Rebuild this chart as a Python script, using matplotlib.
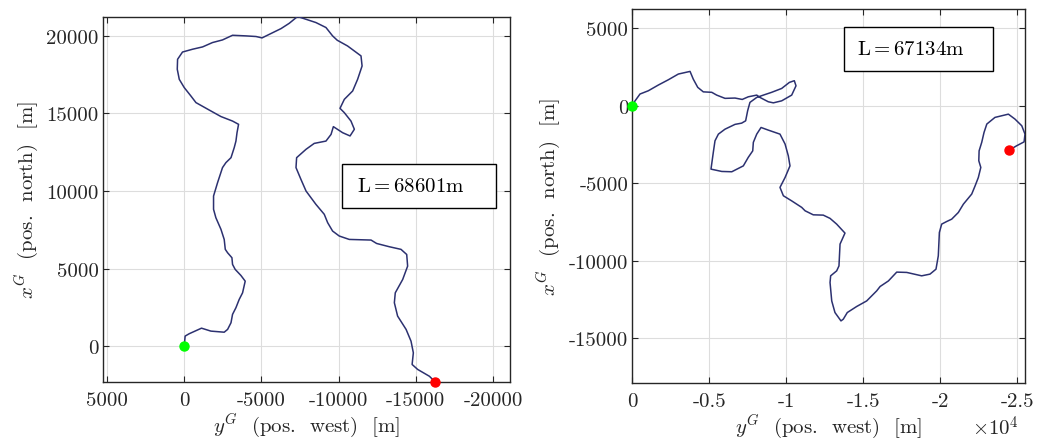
import matplotlib
matplotlib.use("Agg")
import matplotlib.pyplot as plt
from matplotlib.ticker import FuncFormatter, FixedLocator
from matplotlib.patches import Rectangle

plt.rcParams['font.family'] = ['cmr10', 'DejaVu Serif']
plt.rcParams['mathtext.fontset'] = 'cm'
plt.rcParams['axes.unicode_minus'] = False
plt.rcParams['axes.formatter.use_mathtext'] = True

# ---- data: left trajectory (y^G west, x^G north) ----
left_west = [0, -60, -320, -1120, -1730, -2590, -2810, -3030, -3130, -3350, -3560, -3780,
             -3950, -3670, -3300, -3130, -3090, -2810, -2660, -2590, -2380, -2050, -1900,
             -1900, -2160, -2480, -2700, -3030, -3240, -3350, -3420, -3520, -3130, -2380,
             -1620, -760, -430, 0, 320, 450, 430, 110, -540, -1190, -1830, -2480, -3130,
             -4000, -4650, -5040, -5510, -6270, -6800, -7340, -7890, -8530, -9180, -9610,
             -9910, -10580, -11450, -11520, -11230, -10910, -10370, -10090, -10370, -10800,
             -11020, -10740, -10260, -9660, -9510, -9180, -8420, -7890, -7280, -7240, -7560,
             -7890, -8210, -8530, -9070, -9290, -9610, -10040, -10690, -12100, -12460,
             -13280, -14040, -14410, -14470, -14150, -13670, -13610, -13820, -14370, -14690,
             -14840, -14760, -15120, -15880, -16260]
left_north = [0, 650, 800, 1160, 970, 900, 1080, 1510, 2050, 2480, 3010, 3440, 4190, 4560,
              4950, 5270, 5700, 6020, 6240, 6880, 7530, 8280, 8820, 9680, 10540, 11510,
              11830, 12150, 12800, 13220, 13760, 14300, 14510, 14800, 15220, 15700, 16130,
              16670, 17200, 17850, 18490, 18960, 19140, 19290, 19570, 19740, 20040, 20000,
              19960, 19870, 20100, 20470, 20810, 21250, 21070, 20860, 20540, 20000, 19720,
              19350, 18710, 18060, 17200, 16450, 15910, 15330, 15050, 14510, 13980, 13550,
              13760, 14150, 13650, 13220, 13070, 12690, 12150, 11510, 10750, 10000, 9570,
              9140, 8500, 7960, 7420, 7100, 6880, 6840, 6620, 6410, 6240, 5910, 5160, 4300,
              3440, 2800, 1940, 1080, 320, -430, -1180, -1500, -1940, -2310]
left_label = "L=68601m"

# ---- data: right trajectory ----
right_west = [0, -180, -500, -1040, -1690, -2340, -2990, -3750, -3960, -4250, -4610, -5160,
              -5480, -6020, -6670, -7140, -7530, -8080, -8290, -8830, -9160, -9700, -10350,
              -10630, -10520, -10200, -9700, -9050, -8510, -8080, -7640, -7490, -7360,
              -7100, -6670, -6020, -5590, -5370, -5260, -5110, -5810, -6460, -7210, -7530,
              -7820, -7860, -8080, -8360, -8830, -9590, -9920, -10130, -10240, -9920, -9590,
              -9810, -10350, -11000, -11220, -11750, -12400, -12840, -13270, -13810, -13490,
              -13420, -13270, -12880, -12840, -12950, -13160, -13550, -13700, -13960, -14570,
              -15220, -15870, -16090, -16630, -17170, -17820, -18790, -19330, -19720, -19870,
              -19940, -20090, -20420, -20740, -21170, -21500, -22040, -22260, -22470, -22630,
              -22500, -22520, -22690, -22840, -23020, -23550, -24420, -24850, -25290, -25500,
              -25440, -24960, -24480]
right_north = [0, 320, 760, 970, 1340, 1680, 2050, 2220, 1720, 1190, 900, 870, 690, 480, 500,
               410, 580, 690, 540, 260, 190, 320, 690, 1290, 1620, 1510, 1120, 870, 690, 540,
               220, -320, -970, -1120, -1200, -1510, -1830, -2260, -3010, -4090, -4240, -4260,
               -3880, -3330, -2910, -2360, -1830, -1400, -1570, -1830, -2470, -3230, -3880,
               -4630, -5270, -5810, -6140, -6560, -6780, -7040, -7060, -7270, -7640, -8220,
               -8930, -10340, -10660, -10980, -11410, -12600, -13350, -13890, -13780, -13350,
               -12960, -12600, -11950, -11670, -11310, -10740, -10760, -10980, -10870, -10550,
               -9690, -8180, -7640, -7470, -7320, -6890, -6350, -5700, -5170, -4630, -3980,
               -3550, -2910, -2360, -1720, -1180, -750, -540, -860, -1290, -1830, -2330,
               -2580, -2860]
right_label = "L=67134m"

left_xticks = [5000, 0, -5000, -10000, -15000, -20000]
left_yticks = [0, 5000, 10000, 15000, 20000]
right_xticks = [0, -5000, -10000, -15000, -20000, -25000]
right_yticks = [-15000, -10000, -5000, 0, 5000]

line_color = '#2c3170'
fs = 15

fig = plt.figure(figsize=(10.5, 4.39), dpi=100)
W, H = 1050, 439


def make_axes(px_left, px_right, px_top, px_bottom):
    return fig.add_axes([px_left / W, 1 - px_bottom / H,
                         (px_right - px_left) / W, (px_bottom - px_top) / H])


ax1 = make_axes(103, 510, 17.5, 383)
ax2 = make_axes(632.3, 1025, 10, 384)


def style(ax):
    ax.grid(True, color='#dddddd', linewidth=0.8)
    ax.set_axisbelow(True)
    ax.tick_params(direction='in', top=True, right=True, length=4, width=0.8,
                   labelsize=fs, colors='#262626')
    ax.tick_params(axis='x', pad=6.5)
    ax.tick_params(axis='y', pad=3)
    for s in ax.spines.values():
        s.set_linewidth(1.0)
        s.set_color('#262626')


def mtext(s):
    return r"$\mathrm{" + s + "}$"


for ax, xs, ys in [(ax1, left_west, left_north), (ax2, right_west, right_north)]:
    ax.plot(xs, ys, color=line_color, linewidth=1.1, zorder=3)
    ax.plot(xs[0], ys[0], 'o', color='#00ff00', markersize=6.5, zorder=4, clip_on=False)
    ax.plot(xs[-1], ys[-1], 'o', color='#ff0000', markersize=6.5, zorder=4, clip_on=False)
    style(ax)
    ax.set_xlabel(r"$y^G$  (pos.  west)  [m]", fontsize=fs, color='#262626', labelpad=1)
    ax.set_ylabel(r"$x^G$  (pos.  north)  [m]", fontsize=fs, color='#262626', labelpad=5)

ax1.set_xlim(5260, -21100)
ax1.set_ylim(-2310, 21250)
ax1.xaxis.set_major_locator(FixedLocator(left_xticks))
ax1.yaxis.set_major_locator(FixedLocator(left_yticks))
ax1.xaxis.set_major_formatter(FuncFormatter(lambda v, p: f"{int(round(v))}"))
ax1.yaxis.set_major_formatter(FuncFormatter(lambda v, p: f"{int(round(v))}"))

ax2.set_xlim(0, -25500)
ax2.set_ylim(-17900, 6250)
ax2.xaxis.set_major_locator(FixedLocator(right_xticks))
ax2.yaxis.set_major_locator(FixedLocator(right_yticks))
ax2.xaxis.set_major_formatter(FuncFormatter(lambda v, p: f"{v / 1e4:g}"))
ax2.yaxis.set_major_formatter(FuncFormatter(lambda v, p: f"{int(round(v))}"))
ax2.text(0.985, -0.085, r"$\times 10^4$", transform=ax2.transAxes, ha='right', va='top',
         fontsize=fs, color='#262626')

# annotation boxes
ax1.add_patch(Rectangle((0.587, 0.475), 0.379, 0.121, transform=ax1.transAxes,
                        facecolor='white', edgecolor='black', linewidth=1.0, zorder=5))
ax1.text(0.624, 0.536, mtext(left_label), transform=ax1.transAxes, ha='left', va='center',
         fontsize=fs, zorder=6)
ax2.add_patch(Rectangle((0.538, 0.835), 0.381, 0.116, transform=ax2.transAxes,
                        facecolor='white', edgecolor='black', linewidth=1.0, zorder=5))
ax2.text(0.573, 0.893, mtext(right_label), transform=ax2.transAxes, ha='left', va='center',
         fontsize=fs, zorder=6)

fig.savefig("out.png", dpi=100)
